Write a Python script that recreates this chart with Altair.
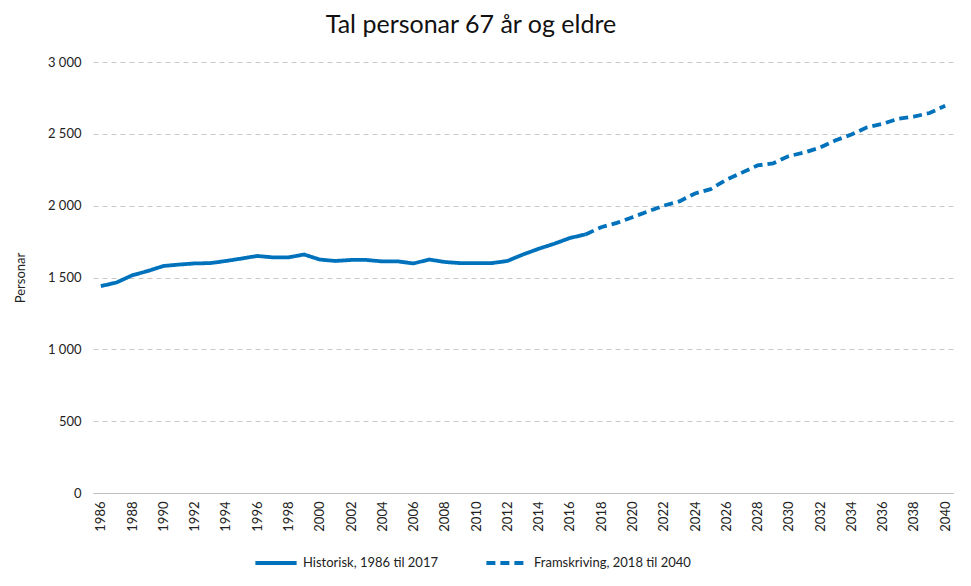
import altair as alt
import pandas as pd

years_hist = list(range(1986, 2018))
vals_hist = [1440, 1465, 1515, 1545, 1580, 1590, 1598, 1600, 1615, 1632,
             1650, 1640, 1640, 1660, 1625, 1615, 1622, 1622, 1612, 1612,
             1598, 1625, 1608, 1600, 1600, 1600, 1615, 1660, 1700, 1735,
             1775, 1800]
years_proj = list(range(2017, 2041))
vals_proj = [1800, 1850, 1880, 1920, 1960, 2000, 2030, 2085, 2115, 2180,
             2230, 2280, 2295, 2345, 2370, 2405, 2455, 2495, 2545, 2570,
             2605, 2620, 2645, 2695]
series_names = ["Historisk, 1986 til 2017", "Framskriving, 2018 til 2040"]
tick_years = list(range(1986, 2041, 2))
y_ticks = [0, 500, 1000, 1500, 2000, 2500, 3000]

df = pd.concat([
    pd.DataFrame({"År": years_hist, "Personar": vals_hist, "Serie": series_names[0]}),
    pd.DataFrame({"År": years_proj, "Personar": vals_proj, "Serie": series_names[1]}),
])

FONT = "Lato"
chart = alt.Chart(df).mark_line(strokeWidth=3.8, color="#0072BC").encode(
    x=alt.X("År:Q",
            scale=alt.Scale(domain=[1985.5, 2040.5], nice=False, zero=False),
            axis=alt.Axis(values=tick_years, format="d", labelAngle=-90,
                          title=None, grid=False, ticks=False,
                          domainColor="#bfbfbf", labelFontSize=13,
                          labelColor="#222", labelFont=FONT, labelPadding=8)),
    y=alt.Y("Personar:Q",
            scale=alt.Scale(domain=[0, 3000], nice=False),
            axis=alt.Axis(values=y_ticks, title="Personar",
                          labelExpr="replace(format(datum.value, ','), ',', ' ')",
                          grid=True, gridDash=[5, 4], gridColor="#c8c8c8",
                          domain=False, ticks=False, labelFontSize=13,
                          labelColor="#222", labelFont=FONT, labelPadding=12,
                          titleFont=FONT, titleFontSize=13, titleFontWeight="normal",
                          titleColor="#222", titlePadding=20)),
    strokeDash=alt.StrokeDash("Serie:N",
        scale=alt.Scale(domain=series_names, range=[[1, 0], [9, 5]]),
        legend=alt.Legend(title=None, orient="none", legendX=160, legendY=478,
                          direction="horizontal", columns=2, columnPadding=40,
                          symbolType="stroke", symbolStrokeWidth=4,
                          symbolSize=1700, symbolStrokeColor="#0072BC",
                          labelFont=FONT, labelFontSize=13, labelColor="#222")),
    detail="Serie:N",
).properties(
    width=860, height=431,
    title=alt.TitleParams("Tal personar 67 år og eldre", font=FONT, fontSize=25,
                          fontWeight="normal", color="#111", dx=-52, offset=18),
    autosize=alt.AutoSizeParams(type="none"),
    padding={"left": 85, "top": 54, "right": 10, "bottom": 90},
).configure_view(stroke=None)

chart.save("out.html", embed_options={"renderer": "svg", "actions": False})
